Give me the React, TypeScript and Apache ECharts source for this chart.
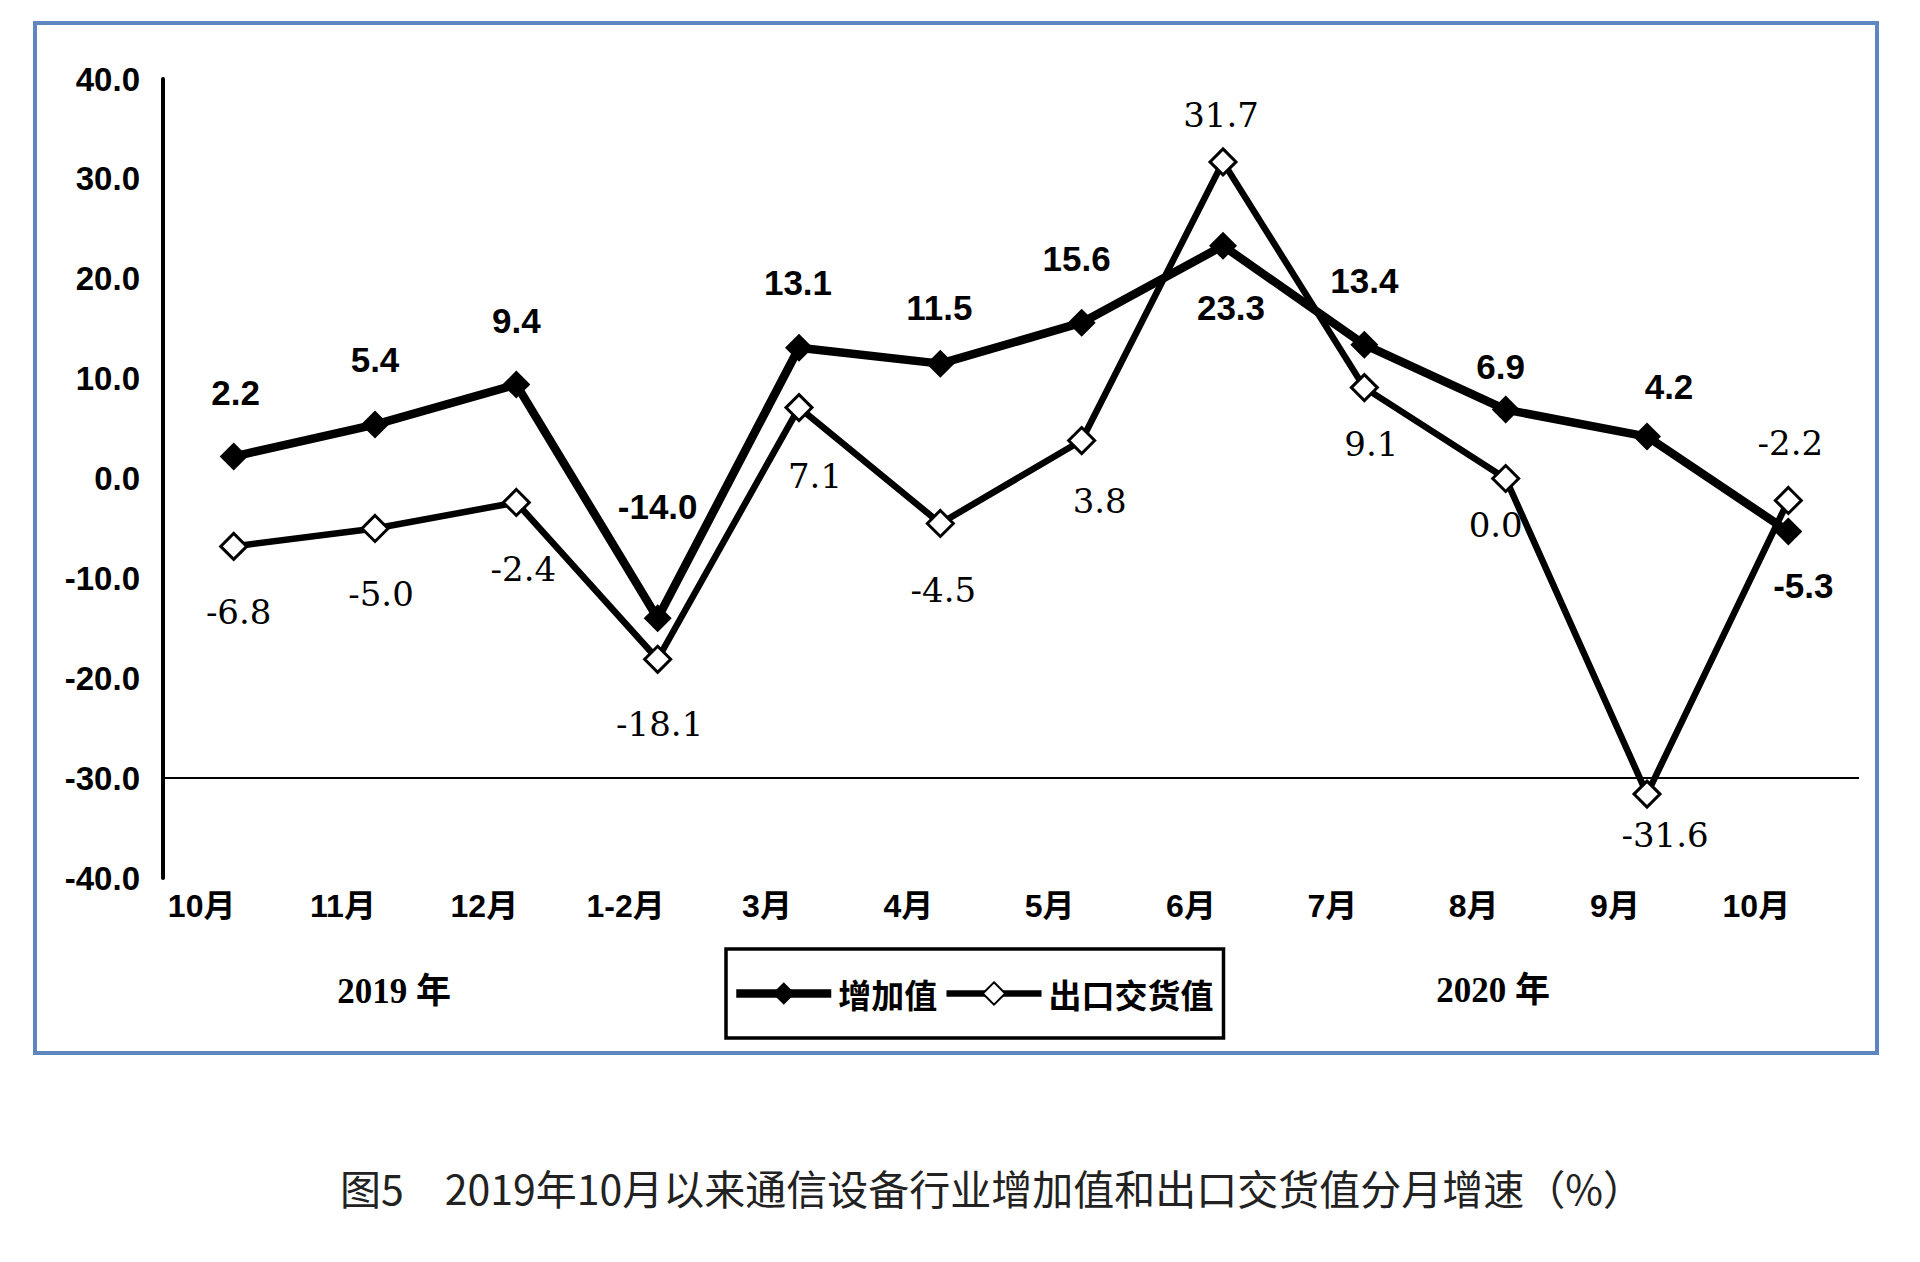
import React, { useEffect, useRef } from 'react';
import * as echarts from 'echarts';

// ---- data ----
const categories = ['10月', '11月', '12月', '1-2月', '3月', '4月', '5月', '6月', '7月', '8月', '9月', '10月'];
const addedValue = [2.2, 5.4, 9.4, -14.0, 13.1, 11.5, 15.6, 23.3, 13.4, 6.9, 4.2, -5.3];
const exportValue = [-6.8, -5.0, -2.4, -18.1, 7.1, -4.5, 3.8, 31.7, 9.1, 0.0, -31.6, -2.2];
const seriesNames = ['增加值', '出口交货值'];
const yearLabels = ['2019 年', '2020 年'];
const titleText = '图5　2019年10月以来通信设备行业增加值和出口交货值分月增速（%）';
const yMin = -40;
const yMax = 40;
const yStep = 10;
const baselineValue = -30;

// ---- label placement (style) ----
const addedLabelOffsets = [
  [2, -64], [0, -65], [0, -64], [0, -112], [-1, -65], [-1, -56],
  [-5, -64], [8, 62], [0, -64], [-5, -43], [22, -50], [15, 54],
];
const exportLabelOffsets = [
  [5, 66], [6, 66], [7, 67], [2, 65], [16, 68], [3, 67],
  [18, 60], [-2, -47], [7, 56], [-10, 46], [18, 41], [2, -57],
];
const yearLabelPos = [[394, 991], [1493, 990]];
const lineWidths = [8.5, 6.5];

const SANS = "'Liberation Sans', Arial, 'Noto Sans CJK SC', sans-serif";
const SERIF_NUM = "'DejaVu Serif', 'Liberation Serif', serif";
const TIMES = "'Liberation Serif', 'Noto Sans CJK SC', serif";
const CJK = "'Noto Sans CJK SC', sans-serif";

export default function App() {
  const ref = useRef<HTMLDivElement>(null);

  useEffect(() => {
    if (!ref.current) return;
    const chart = echarts.init(ref.current, undefined, { renderer: 'svg' });
    const fmt = (p: any) => Number(p.value).toFixed(1);

    const option: any = {
      animation: false,
      backgroundColor: '#fff',
      grid: { left: 163, right: 61, top: 79, bottom: 384, containLabel: false },
      legend: {
        data: seriesNames.map((n, i) => ({ name: n, lineStyle: { width: lineWidths[i], color: '#000' } })),
        left: 726,
        top: 949,
        orient: 'horizontal',
        itemWidth: 95,
        itemHeight: 28,
        itemGap: 6,
        padding: [28, 10, 28, 6],
        borderColor: '#000',
        borderWidth: 3.5,
        selectedMode: false,
        textStyle: {
          fontSize: 33,
          fontWeight: 'bold',
          color: '#000',
          fontFamily: CJK,
          padding: [0, 0, 0, 2],
        },
      },
      xAxis: {
        type: 'category',
        data: categories,
        boundaryGap: true,
        axisLine: { show: false },
        axisTick: { show: false },
        splitLine: { show: false },
        axisLabel: {
          interval: 0,
          fontSize: 32,
          fontWeight: 'bold',
          color: '#000',
          fontFamily: SANS,
          margin: 12,
          padding: [0, 64, 0, 0],
        },
      },
      yAxis: {
        type: 'value',
        min: yMin,
        max: yMax,
        interval: yStep,
        axisLine: { show: true, onZero: false, lineStyle: { color: '#000', width: 4 } },
        axisTick: { show: false },
        splitLine: { show: false },
        axisLabel: {
          formatter: (v: number) => v.toFixed(1),
          fontSize: 33,
          fontWeight: 'bold',
          color: '#000',
          fontFamily: SANS,
          margin: 23,
        },
      },
      series: [
        {
          name: seriesNames[0],
          type: 'line',
          z: 4,
          data: addedValue.map((v, i) => ({ value: v, label: { offset: addedLabelOffsets[i] } })),
          symbol: 'diamond',
          symbolSize: 28,
          lineStyle: { color: '#000', width: lineWidths[0] },
          itemStyle: { color: '#000' },
          emphasis: { disabled: true },
          label: {
            show: true,
            position: 'inside',
            formatter: fmt,
            fontSize: 35,
            fontWeight: 'bold',
            fontFamily: SANS,
            color: '#000',
            textBorderWidth: 0,
          },
        },
        {
          name: seriesNames[1],
          type: 'line',
          z: 3,
          data: exportValue.map((v, i) => ({ value: v, label: { offset: exportLabelOffsets[i] } })),
          symbol: 'diamond',
          symbolSize: 26,
          lineStyle: { color: '#000', width: lineWidths[1] },
          itemStyle: { color: '#fff', borderColor: '#000', borderWidth: 3 },
          emphasis: { disabled: true },
          label: {
            show: true,
            position: 'inside',
            formatter: fmt,
            fontSize: 34,
            fontWeight: 'normal',
            fontFamily: SERIF_NUM,
            color: '#000',
            textBorderWidth: 0,
          },
          markLine: {
            silent: true,
            symbol: ['none', 'none'],
            label: { show: false },
            lineStyle: { color: '#000', width: 2, type: 'solid' },
            emphasis: { disabled: true },
            data: [{ yAxis: baselineValue }],
          },
        },
      ],
      graphic: [
        {
          type: 'rect',
          silent: true,
          z: -10,
          shape: { x: 35, y: 23, width: 1842, height: 1030 },
          style: { fill: 'none', stroke: '#5E86BF', lineWidth: 4 },
        },
        ...yearLabels.map((t, i) => ({
          type: 'text',
          silent: true,
          x: yearLabelPos[i][0],
          y: yearLabelPos[i][1],
          style: {
            text: t,
            align: 'center',
            verticalAlign: 'middle',
            fontSize: 35,
            fontWeight: 'bold',
            fontFamily: TIMES,
            fill: '#000',
          },
        })),
        {
          type: 'text',
          silent: true,
          x: 992,
          y: 1187,
          style: {
            text: titleText,
            align: 'center',
            verticalAlign: 'middle',
            fontSize: 41,
            fontWeight: 'normal',
            fontFamily: CJK,
            fill: '#222',
          },
        },
      ],
    };

    chart.setOption(option);
    return () => chart.dispose();
  }, []);

  return (
    <div
      ref={ref}
      style={{ position: 'absolute', left: 0, top: 0, width: 1920, height: 1262, background: '#fff' }}
    />
  );
}
